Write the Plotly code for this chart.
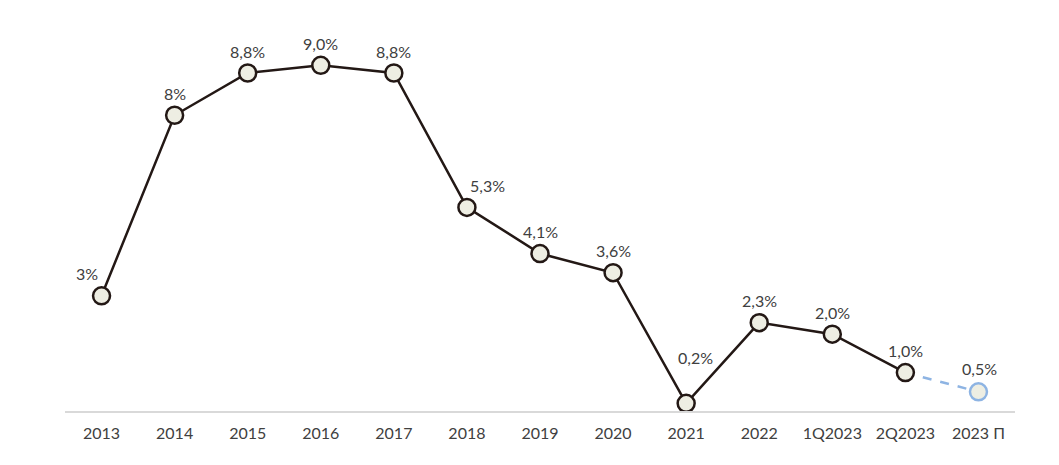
import plotly.graph_objects as go

categories = ["2013", "2014", "2015", "2016", "2017", "2018", "2019", "2020",
              "2021", "2022", "1Q2023", "2Q2023", "2023 П"]
values = [3.0, 7.7, 8.8, 9.0, 8.8, 5.3, 4.1, 3.6, 0.2, 2.3, 2.0, 1.0, 0.5]
labels = ["3%", "8%", "8,8%", "9,0%", "8,8%", "5,3%", "4,1%", "3,6%",
          "0,2%", "2,3%", "2,0%", "1,0%", "0,5%"]

# label offsets in pixels (style only)
label_dx = [-15, 0, 0, 0, 0, 21, 0, 0, 9, 0, 0, 0, 1]
label_dy = [22, 22, 22, 22, 22, 22, 22, 22, 46, 22, 22, 22, 23]

dark = "#231815"
blue = "#8EB4E3"
fill = "#EEEEE3"
txt = "#404040"

fig = go.Figure()
# forecast dashed segment
fig.add_trace(go.Scatter(
    x=categories[-2:], y=values[-2:], mode="lines",
    line=dict(color=blue, width=2.5, dash="dash"), hoverinfo="skip",
    showlegend=False))
# actual line
fig.add_trace(go.Scatter(
    x=categories[:-1], y=values[:-1], mode="lines+markers",
    line=dict(color=dark, width=2.5),
    marker=dict(size=17, color=fill, line=dict(color=dark, width=2.5)),
    showlegend=False))
# forecast point
fig.add_trace(go.Scatter(
    x=categories[-1:], y=values[-1:], mode="markers",
    marker=dict(size=17, color=fill, line=dict(color=blue, width=2.5)),
    showlegend=False))

# annotations placed at category index positions
for i, (v, t, dx, dy) in enumerate(zip(values, labels, label_dx, label_dy)):
    fig.add_annotation(x=i, y=v, text=t, showarrow=False,
                       xanchor="center", yanchor="middle",
                       xshift=dx, yshift=dy,
                       font=dict(family="Lato", size=16, color=txt))

fig.update_layout(
    width=1059, height=465,
    margin=dict(l=57, r=52, t=12, b=62),
    plot_bgcolor="white", paper_bgcolor="white",
    font=dict(family="Lato", size=16, color=txt),
    xaxis=dict(type="category", categoryorder="array", categoryarray=categories,
               range=[-0.5, 12.5], showgrid=False, zeroline=False,
               showline=True, linecolor="#D9D9D9", linewidth=2,
               ticks="", ticklabelstandoff=7,
               tickfont=dict(family="Lato", size=16, color=txt)),
    yaxis=dict(range=[0, 10.18], visible=False, showgrid=False, zeroline=False),
)

fig.write_html("out.html")
